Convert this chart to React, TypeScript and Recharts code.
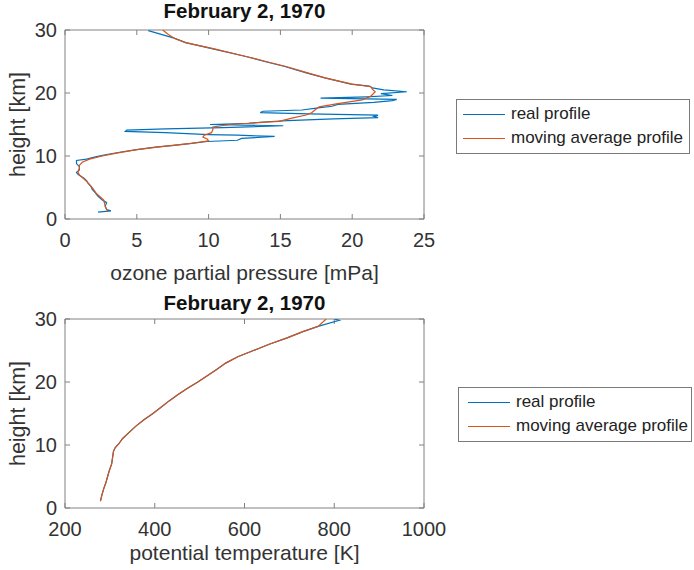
import React from "react";
import { ScatterChart, Scatter, XAxis, YAxis, Label } from "recharts";

// ozone profile, real (height km, partial pressure mPa)
const ozoneRealHeight = [
  1.1, 1.3, 1.5, 2.0, 2.6, 3.0, 3.6, 4.2, 4.7, 5.2, 5.7, 6.1, 6.5, 6.8, 7.1, 7.4, 7.8, 8.3, 8.8, 9.3,
  9.5, 9.9, 10.2, 10.6, 11.0, 11.4, 11.7, 12.0, 12.3, 12.5, 12.8, 13.1, 13.3, 13.4, 13.7, 13.9, 14.1,
  14.3, 14.5, 14.8, 15.0, 15.2, 15.4, 15.6, 15.9, 16.1, 16.3, 16.5, 16.7, 16.9, 17.1, 17.3, 17.6, 17.9,
  18.2, 18.5, 18.8, 19.0, 19.2, 19.4, 19.6, 19.9, 20.2, 20.5, 20.8, 21.1, 21.4, 22.4, 23.2, 24.2, 25.0,
  25.8, 27.0, 28.0, 28.7, 29.3, 29.9,
];
const ozoneReal = [
  2.3, 3.2, 2.9, 2.8, 2.9, 2.6, 2.3, 2.1, 1.9, 1.8, 1.6, 1.5, 1.3, 1.1, 0.9, 0.8, 1.0, 1.0, 0.8, 0.8,
  1.5, 2.2, 2.8, 3.8, 5.0, 6.3, 7.6, 8.8, 9.9, 12.0, 12.3, 14.6, 12.0, 10.0, 7.0, 4.2, 4.3,
  7.0, 11.0, 15.2, 10.1, 12.8, 13.8, 15.5, 18.7, 21.8, 21.5, 21.8, 17.0, 13.6, 13.8, 16.5, 17.5, 18.6,
  19.0, 21.5, 22.8, 23.1, 17.8, 21.0, 22.8, 22.0, 23.8, 22.2, 21.4, 21.2, 19.9, 18.1, 16.8, 15.3, 13.9,
  12.6, 10.3, 8.4, 7.6, 6.7, 5.8,
];

// ozone profile, moving average
const ozoneAvgHeight = [
  1.1, 2.0, 3.0, 4.0, 5.0, 6.0, 7.0, 7.5, 8.0, 8.5, 9.0, 9.5, 10.0, 10.5, 11.0, 11.5, 12.0, 12.4, 12.7,
  13.0, 13.3, 13.7, 14.2, 14.6, 15.0, 15.2, 15.5, 16.0, 16.5, 16.9, 17.3, 17.8, 18.3, 18.9, 19.5, 20.2,
  20.6, 21.0, 21.4, 22.4, 23.2, 24.2, 25.0, 25.8, 27.0, 28.0, 28.7, 29.3, 30.0,
];
const ozoneAvg = [
  3.0, 2.8, 2.7, 2.2, 1.9, 1.5, 1.0, 0.9, 1.0, 1.0, 1.2, 1.7, 2.6, 3.7, 5.0, 6.7, 8.8, 10.0, 9.9,
  9.6, 9.7, 10.2, 10.3, 10.3, 11.5, 12.8, 14.9, 15.8, 16.8, 17.2, 17.4, 17.7, 19.0, 20.7, 21.3, 21.6,
  21.4, 21.3, 20.0, 18.1, 16.9, 15.4, 14.0, 12.6, 10.4, 8.4, 7.6, 7.2, 6.8,
];

// potential temperature profile (height km, K)
const tempRealHeight = [
  1.1, 2.0, 3.0, 4.0, 5.0, 6.0, 7.0, 8.0, 9.0, 9.6, 10.2, 11.0, 12.0, 13.0, 14.0, 15.0, 16.0, 17.0,
  18.0, 19.0, 20.0, 21.0, 22.0, 23.0, 24.0, 25.0, 26.0, 27.0, 28.0, 28.8, 29.8, 30.0,
];
const tempReal = [
  279, 282, 286, 291, 295, 299, 304, 306, 308, 312, 320, 328, 343, 358, 376, 396, 414, 432,
  452, 473, 496, 517, 538, 558, 585, 620, 655, 695, 730, 762, 811, 800,
];
const tempAvgHeight = [
  1.1, 2.0, 3.0, 4.0, 5.0, 6.0, 7.0, 8.0, 9.0, 9.6, 10.2, 11.0, 12.0, 13.0, 14.0, 15.0, 16.0, 17.0,
  18.0, 19.0, 20.0, 21.0, 22.0, 23.0, 24.0, 25.0, 26.0, 27.0, 28.0, 28.8, 30.0,
];
const tempAvg = [
  279, 282, 286, 291, 295, 299, 304, 306, 308, 312, 320, 328, 343, 358, 376, 396, 414, 432,
  452, 473, 496, 517, 538, 558, 585, 620, 655, 695, 730, 764, 782,
];

const ozoneTicks = [0, 5, 10, 15, 20, 25];
const tempTicks = [200, 400, 600, 800, 1000];
const heightTicks = [0, 10, 20, 30];
const seriesNames = ["real profile", "moving average profile"];

const BLUE = "#0072BD";
const ORANGE = "#D95319";
const AXIS = "#808080";
const FONT = "'Liberation Sans', Arial, sans-serif";

const toPoints = (hs: number[], vs: number[]) => hs.map((h, i) => ({ x: vs[i], y: h }));

const noDot = () => <g />;

function LegendBox({ top, left, lineX }: { top: number; left: number; lineX: number }) {
  const colors = [BLUE, ORANGE];
  return (
    <div
      style={{
        position: "absolute",
        top,
        left,
        width: 234,
        border: "1px solid #7a7a7a",
        background: "#fff",
        padding: "2px 0 3px 0",
        fontFamily: FONT,
        fontSize: 17,
        color: "#222",
        whiteSpace: "nowrap",
        boxSizing: "border-box",
      }}
    >
      {seriesNames.map((n, i) => (
        <div key={n} style={{ display: "flex", alignItems: "center", height: 24 }}>
          <span
            style={{
              display: "inline-block",
              width: 42,
              marginLeft: lineX,
              marginRight: 6,
              borderTop: `1px solid ${colors[i]}`,
            }}
          />
          <span>{n}</span>
        </div>
      ))}
    </div>
  );
}

interface PanelProps {
  height: number;
  axisHeight: number;
  titleOffset: number;
  real: { x: number; y: number }[];
  avg: { x: number; y: number }[];
  xDomain: [number, number];
  xTicks: number[];
  xLabel: string;
}

function Panel({ height, axisHeight, titleOffset, real, avg, xDomain, xTicks, xLabel }: PanelProps) {
  const tickStyle = { fontSize: 20, fill: "#333", fontFamily: FONT };
  return (
    <ScatterChart width={694} height={height} margin={{ top: 29, right: 269, left: 20, bottom: 8 }}>
      <XAxis
        xAxisId="b"
        type="number"
        dataKey="x"
        domain={xDomain}
        ticks={xTicks}
        allowDataOverflow
        stroke={AXIS}
        tickSize={-5}
        tickMargin={19}
        tick={tickStyle}
        height={axisHeight}
      >
        <Label
          value={xLabel}
          position="insideBottom"
          offset={2}
          style={{ fontSize: 21, fill: "#333", fontFamily: FONT }}
        />
      </XAxis>
      <XAxis
        xAxisId="t"
        orientation="top"
        type="number"
        dataKey="x"
        domain={xDomain}
        ticks={xTicks}
        allowDataOverflow
        stroke={AXIS}
        tickSize={-5}
        tickFormatter={() => ""}
        height={1}
      >
        <Label
          value="February 2, 1970"
          position="top"
          offset={titleOffset}
          style={{ fontSize: 20.5, fontWeight: "bold", fill: "#111", fontFamily: FONT }}
        />
      </XAxis>
      <YAxis
        yAxisId="l"
        type="number"
        dataKey="y"
        domain={[0, 30]}
        ticks={heightTicks}
        allowDataOverflow
        stroke={AXIS}
        tickSize={-5}
        tickMargin={13}
        tick={tickStyle}
        width={45}
      >
        <Label
          value="height [km]"
          angle={-90}
          position="insideLeft"
          offset={-3}
          style={{ fontSize: 21.5, fill: "#333", fontFamily: FONT, textAnchor: "middle" }}
        />
      </YAxis>
      <YAxis
        yAxisId="r"
        orientation="right"
        type="number"
        dataKey="y"
        domain={[0, 30]}
        ticks={heightTicks}
        allowDataOverflow
        stroke={AXIS}
        tickSize={-5}
        tickFormatter={() => ""}
        width={1}
      />
      <Scatter
        name={seriesNames[0]}
        data={real}
        xAxisId="b"
        yAxisId="l"
        line={{ stroke: BLUE, strokeWidth: 1.2 }}
        lineType="joint"
        shape={noDot}
        fill={BLUE}
        isAnimationActive={false}
      />
      <Scatter
        name={seriesNames[1]}
        data={avg}
        xAxisId="b"
        yAxisId="l"
        line={{ stroke: ORANGE, strokeWidth: 1.2 }}
        lineType="joint"
        shape={noDot}
        fill={ORANGE}
        isAnimationActive={false}
      />
    </ScatterChart>
  );
}

export default function App() {
  return (
    <div style={{ position: "absolute", left: 0, top: 0, width: 694, height: 570, background: "#fff", overflow: "hidden" }}>
      <div style={{ position: "absolute", left: 0, top: 0 }}>
        <Panel
          height={290}
          axisHeight={63}
          titleOffset={11}
          real={toPoints(ozoneRealHeight, ozoneReal)}
          avg={toPoints(ozoneAvgHeight, ozoneAvg)}
          xDomain={[0, 25]}
          xTicks={ozoneTicks}
          xLabel="ozone partial pressure [mPa]"
        />
      </div>
      <LegendBox top={99} left={456} lineX={6} />
      <div style={{ position: "absolute", left: 0, top: 289 }}>
        <Panel
          height={281}
          axisHeight={54}
          titleOffset={8}
          real={toPoints(tempRealHeight, tempReal)}
          avg={toPoints(tempAvgHeight, tempAvg)}
          xDomain={[200, 1000]}
          xTicks={tempTicks}
          xLabel="potential temperature [K]"
        />
      </div>
      <LegendBox top={387} left={458} lineX={9} />
    </div>
  );
}
